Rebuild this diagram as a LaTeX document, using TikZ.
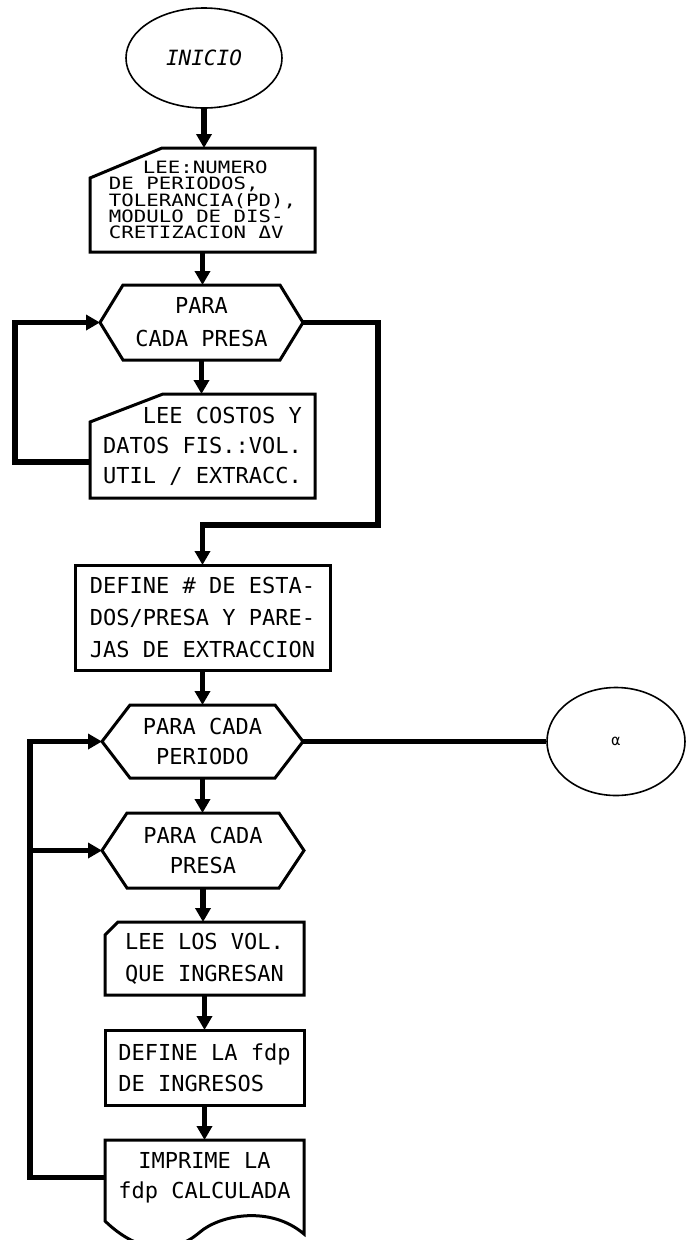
\documentclass[tikz,border=0pt]{standalone}
\usepackage{fontspec}
\newfontfamily\flowfont{DejaVu Sans Mono}
\newfontfamily\flowfontwide[FakeStretch=1.22]{DejaVu Sans Mono}
\usetikzlibrary{shapes.geometric,arrows.meta}
\newcommand{\hexoutline}[2]{%
  \draw[outline] (#1.west) -- ([xshift=#2]#1.north west) -- ([xshift=-#2]#1.north east)
    -- (#1.east) -- ([xshift=-#2]#1.south east) -- ([xshift=#2]#1.south west) -- cycle;}
\newcommand{\cardoutline}[3]{%
  \draw[outline] ([yshift=-#3]#1.north west) -- ([xshift=#2]#1.north west) -- (#1.north east)
    -- (#1.south east) -- (#1.south west) -- cycle;}
\tikzset{
  shapebox/.style={rectangle, draw=none, inner sep=0pt, outer sep=0pt, align=center,
    font=\flowfont\fontsize{22}{31}\selectfont},
  procbox/.style={shapebox, draw, line width=3pt},
  oval/.style={ellipse, draw, line width=1.6pt, inner sep=0pt},
  outline/.style={line width=3pt, line join=miter},
  flow/.style={line width=5.5pt, -{Triangle[length=14pt,width=15pt]}},
  link/.style={line width=5.5pt},
}
\begin{document}
\begin{tikzpicture}[x=1pt,y=-1pt]
\useasboundingbox (0,0) rectangle (687,1240);
\fill[white] (0,0) rectangle (687,1240);
\clip (0,0) rectangle (687,1240);

% nodes
\node[oval, minimum width=156pt, minimum height=100pt,
      font=\flowfont\itshape\fontsize{21}{24}\selectfont] (start) at (204,58) {INICIO};
\node[shapebox, minimum width=225pt, minimum height=104pt, align=left,
      font=\flowfontwide\fontsize{17}{16.2}\selectfont] (box1) at (202.5,200)
  {\hspace*{34pt}LEE:NUMERO\\DE PERIODOS,\\TOLERANCIA(PD),\\MODULO DE DIS-\\CRETIZACION ΔV};
\node[shapebox, minimum width=203pt, minimum height=75pt,
      font=\flowfont\fontsize{22}{33}\selectfont] (hex1) at (201.5,322.5) {PARA\\CADA PRESA};
\node[shapebox, minimum width=225pt, minimum height=104pt, align=right,
      font=\flowfont\fontsize{22}{30}\selectfont] (box2) at (202.5,446)
  {LEE COSTOS Y\\DATOS FIS.:VOL.\\UTIL / EXTRACC.};
\node[procbox, minimum width=255pt, minimum height=105pt,
      font=\flowfont\fontsize{22}{32}\selectfont] (box3) at (202.5,617.5)
  {DEFINE \# DE ESTA-\\DOS/PRESA Y PARE-\\JAS DE EXTRACCION};
\node[shapebox, minimum width=201pt, minimum height=73pt,
      font=\flowfont\fontsize{22}{30}\selectfont] (hex2) at (202.5,741.5) {PARA CADA\\PERIODO};
\node[oval, minimum width=138pt, minimum height=108pt,
      font=\flowfont\fontsize{15}{16}\selectfont] (alpha) at (616,741.5) {α};
\node[shapebox, minimum width=202pt, minimum height=75pt,
      font=\flowfont\fontsize{22}{30}\selectfont] (hex3) at (203,850.5) {PARA CADA\\PRESA};
\node[shapebox, minimum width=199pt, minimum height=73pt,
      font=\flowfont\fontsize{22}{32}\selectfont] (box4) at (204.5,958.5)
  {LEE LOS VOL.\\QUE INGRESAN};
\node[procbox, minimum width=199pt, minimum height=75pt, align=left,
      font=\flowfont\fontsize{22}{31}\selectfont] (box5) at (204.5,1067.5)
  {DEFINE LA fdp\\DE INGRESOS};
\node[shapebox, minimum width=199pt, minimum height=75pt,
      font=\flowfont\fontsize{22}{30}\selectfont] (doc) at (204.5,1177.5)
  {IMPRIME LA\\fdp CALCULADA};

% outlines of special shapes
\cardoutline{box1}{72pt}{30pt}
\hexoutline{hex1}{23pt}
\cardoutline{box2}{73pt}{28pt}
\hexoutline{hex2}{28pt}
\hexoutline{hex3}{25pt}
\cardoutline{box4}{13pt}{13pt}
\draw[outline] (doc.north west) -- ([yshift=-81pt]doc.north west)
  .. controls (135,1250) and (170,1258) .. (200,1232)
  .. controls (220,1215) and (270,1205) .. (304,1234) -- (doc.north east) -- cycle;

% straight flow
\draw[flow] (start.south) -- (start.south |- box1.north);
\draw[flow] (box1.south) -- (box1.south |- hex1.north);
\draw[flow] (hex1.south) -- (hex1.south |- box2.north);
\draw[flow] (box3.south) -- (box3.south |- hex2.north);
\draw[flow] (hex2.south) -- (hex2.south |- hex3.north);
\draw[flow] (hex3.south) -- (hex3.south |- box4.north);
\draw[flow] (box4.south) -- (box4.south |- box5.north);
\draw[flow] (box5.south) -- (box5.south |- doc.north);

% loops
\coordinate (la) at (15,462);
\draw[flow] ([yshift=-16pt]box2.west) -- (la) |- (hex1.west);
\coordinate (rb) at (378,525);
\draw[flow] (hex1.east) -| (rb) -| (box3.north);
\draw[link] (hex2.east) -- (alpha.west);
\coordinate (lc) at (30,1177.5);
\draw[flow] (doc.west) -- (lc) |- (hex2.west);
\draw[flow] (lc |- hex3.west) -- (hex3.west);
\end{tikzpicture}
\end{document}
